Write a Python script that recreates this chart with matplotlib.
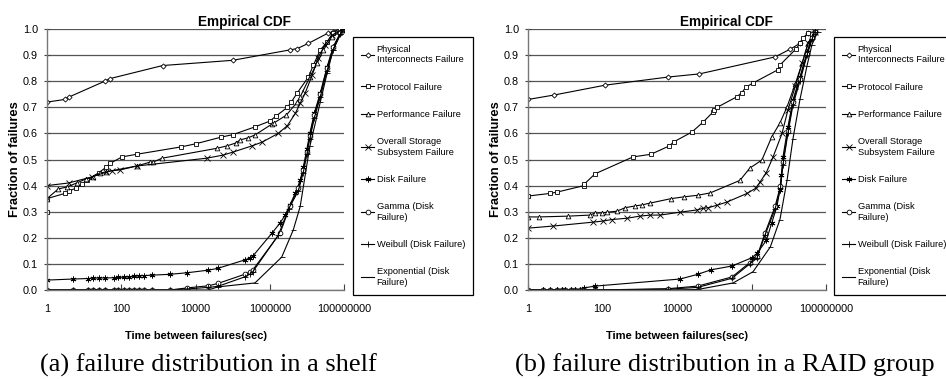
import matplotlib
matplotlib.use("Agg")
import matplotlib.pyplot as plt

plt.rcParams['font.family'] = ['Liberation Sans', 'DejaVu Sans']

# ---- (a) shelf ----
phys_a_x = [1, 3, 4, 36, 50, 1300, 1e5, 3.5e6, 5.5e6, 1.1e7, 3.8e7, 5e7, 8e7, 1e8]
phys_a_y = [0.72, 0.73, 0.74, 0.80, 0.81, 0.86, 0.88, 0.92, 0.925, 0.945, 0.985, 0.99, 1.0, 1.0]

proto_a_x = [1, 1, 3, 4, 6, 9, 12, 25, 39, 50, 105, 260, 4000, 1e4, 5e4, 1e5, 4e5, 1e6,
             1.5e6, 3e6, 3.8e6, 5.5e6, 1.1e7, 1.5e7, 2.3e7, 3.5e7, 5e7, 9e7]
proto_a_y = [0.30, 0.35, 0.37, 0.38, 0.39, 0.405, 0.42, 0.45, 0.47, 0.485, 0.51, 0.52, 0.548, 0.56,
             0.586, 0.595, 0.625, 0.647, 0.667, 0.70, 0.72, 0.755, 0.816, 0.862, 0.92, 0.95, 0.985, 0.995]

perf_a_x = [1, 2, 3.5, 6.3, 11, 17, 27, 40, 260, 600, 720, 1260, 3.8e4, 7e4, 1.2e5, 1.6e5, 2.6e5,
            4e5, 1.15e6, 1.3e6, 2.8e6, 5.5e6, 6.6e6, 1.2e7, 1.9e7, 2.8e7, 4.8e7, 9e7]
perf_a_y = [0.35, 0.387, 0.395, 0.41, 0.425, 0.433, 0.448, 0.453, 0.475, 0.49, 0.49, 0.505, 0.543,
            0.552, 0.563, 0.575, 0.583, 0.594, 0.636, 0.64, 0.67, 0.72, 0.74, 0.816, 0.87, 0.92, 0.97, 0.995]

over_a_x = [1, 3.8, 16, 40, 55, 93, 260, 2e4, 5.6e4, 1e5, 3.3e5, 6.3e5, 1.7e6, 3e6, 4.9e6, 6.6e6,
            8.9e6, 1.4e7, 2e7, 3.1e7, 4.8e7, 9e7]
over_a_y = [0.40, 0.41, 0.433, 0.452, 0.457, 0.46, 0.475, 0.505, 0.517, 0.528, 0.552, 0.567, 0.60,
            0.63, 0.677, 0.715, 0.753, 0.824, 0.89, 0.94, 0.977, 0.995]

disk_a_x = [1, 5, 13, 17, 25, 37, 63, 80, 120, 160, 220, 300, 400, 680, 2000, 5900, 2.2e4, 4e4,
            2.1e5, 3e5, 3.5e5, 1.15e6, 1.9e6, 2.6e6, 3.5e6, 4.9e6, 6.6e6, 8e6, 1e7, 1.2e7, 1.6e7,
            2.3e7, 3.5e7, 5.1e7, 8e7, 1e8]
disk_a_y = [0.038, 0.042, 0.044, 0.045, 0.046, 0.046, 0.047, 0.048, 0.049, 0.05, 0.052, 0.054, 0.055,
            0.057, 0.06, 0.066, 0.076, 0.083, 0.115, 0.123, 0.13, 0.218, 0.257, 0.287, 0.326, 0.372,
            0.42, 0.47, 0.54, 0.60, 0.68, 0.755, 0.855, 0.93, 0.985, 1.0]

zero_a_x = [1, 5, 13, 17, 25, 37, 63, 80, 120, 160, 220, 300, 400, 680, 2000]
gamma_a_x = zero_a_x + [5900, 2.2e4, 4e4, 2.1e5, 3e5, 3.5e5, 1.9e6, 3.5e6, 5.9e6, 8e6, 1e7,
                        1.2e7, 1.6e7, 2.3e7, 3.5e7, 5.1e7, 8e7, 1e8]
gamma_a_y = [0.0] * 15 + [0.008, 0.016, 0.025, 0.06, 0.07, 0.077, 0.218, 0.32, 0.39, 0.46, 0.53,
                          0.59, 0.67, 0.75, 0.85, 0.93, 0.985, 1.0]
weib_a_x = zero_a_x + [5900, 2.2e4, 4e4, 2.1e5, 3e5, 3.5e5, 1.7e6, 3.2e6, 5.9e6, 8e6, 1e7,
                       1.2e7, 1.6e7, 2.3e7, 3.5e7, 5.1e7, 8e7, 1e8]
weib_a_y = [0.0] * 15 + [0.004, 0.01, 0.014, 0.05, 0.062, 0.07, 0.21, 0.31, 0.38, 0.45, 0.52,
                         0.58, 0.66, 0.74, 0.84, 0.92, 0.98, 1.0]
exp_a_x = zero_a_x + [5900, 2.2e4, 4e4, 4e5, 2.1e6, 4.3e6, 6.6e6, 1.2e7, 2.3e7, 3.5e7, 5.1e7, 8e7, 1e8]
exp_a_y = [0.0] * 15 + [0.0, 0.0, 0.012, 0.027, 0.126, 0.23, 0.32, 0.55, 0.72, 0.83, 0.92, 0.98, 1.0]

# ---- (b) RAID group ----
phys_b_x = [1, 5, 120, 5800, 4e4, 4.3e6, 1.1e7, 2e7, 3.3e7, 5e7]
phys_b_y = [0.73, 0.747, 0.785, 0.816, 0.828, 0.893, 0.923, 0.945, 0.985, 0.99]

proto_b_x = [1, 3.9, 6, 32, 32, 63, 660, 2000, 6200, 8300, 2.5e4, 5e4, 9.3e4, 1e5, 1.2e5, 4e5,
             5.4e5, 7.2e5, 1.1e6, 5e6, 5.8e6, 1.6e7, 2e7, 2.4e7, 3.3e7]
proto_b_y = [0.36, 0.37, 0.375, 0.40, 0.405, 0.445, 0.51, 0.52, 0.552, 0.568, 0.605, 0.643, 0.682,
             0.69, 0.70, 0.74, 0.755, 0.778, 0.793, 0.843, 0.862, 0.925, 0.945, 0.965, 0.985]

perf_b_x = [1, 2, 12, 46, 63, 98, 130, 245, 400, 740, 1150, 1900, 6900, 1.55e4, 3.6e4, 7.8e4,
            4.9e5, 9e5, 1.9e6, 3.5e6, 5.8e6, 8.9e6, 1.5e7, 2.3e7, 3.3e7, 5e7]
perf_b_y = [0.28, 0.28, 0.283, 0.287, 0.295, 0.295, 0.298, 0.302, 0.315, 0.322, 0.326, 0.333, 0.35,
            0.357, 0.363, 0.372, 0.42, 0.467, 0.498, 0.587, 0.64, 0.70, 0.79, 0.87, 0.945, 0.99]

over_b_x = [1, 4.7, 56, 100, 180, 460, 1000, 1900, 3500, 1.2e4, 3.5e4, 5e4, 6.8e4, 1.2e5, 2.2e5,
            7.6e5, 1.3e6, 1.7e6, 2.5e6, 3.8e6, 6.6e6, 9.5e6, 1.5e7, 2.3e7, 3.3e7, 5e7]
over_b_y = [0.237, 0.245, 0.26, 0.264, 0.27, 0.275, 0.283, 0.287, 0.287, 0.298, 0.307, 0.313, 0.315,
            0.325, 0.337, 0.37, 0.39, 0.414, 0.45, 0.51, 0.60, 0.69, 0.78, 0.87, 0.945, 0.99]

zero_b_x = [1, 2.5, 4, 6, 8, 10, 14, 18, 25]
disk_b_x = zero_b_x + [32, 63, 1.2e4, 3.6e4, 8e4, 3e5, 1e6, 1.4e6, 2.5e6, 3.5e6, 4.8e6, 5.8e6,
                       6.3e6, 7e6, 9.5e6, 1.3e7, 2e7, 3.1e7, 4.2e7, 5e7]
disk_b_y = [0.0] * 9 + [0.008, 0.015, 0.042, 0.06, 0.077, 0.092, 0.123, 0.14, 0.19, 0.257, 0.32,
                        0.383, 0.44, 0.51, 0.625, 0.728, 0.816, 0.91, 0.97, 0.99]
gamma_b_x = zero_b_x + [32, 63, 5800, 3.6e4, 3e5, 9e5, 1.4e6, 2.3e6, 4.3e6, 6e6, 7e6, 9.5e6,
                        1.3e7, 2e7, 3.1e7, 4.2e7, 5e7]
gamma_b_y = [0.0] * 9 + [0.0, 0.0, 0.005, 0.015, 0.05, 0.105, 0.127, 0.218, 0.32, 0.40, 0.49, 0.61,
                         0.72, 0.81, 0.905, 0.965, 0.99]
weib_b_x = zero_b_x + [32, 63, 5800, 3.6e4, 3e5, 9e5, 1.4e6, 2.3e6, 4.3e6, 6e6, 7e6, 9.5e6,
                       1.3e7, 2e7, 3.1e7, 4.2e7, 5e7]
weib_b_y = [0.0] * 9 + [0.0, 0.0, 0.003, 0.01, 0.045, 0.1, 0.122, 0.21, 0.31, 0.39, 0.48, 0.60,
                        0.71, 0.80, 0.90, 0.96, 0.99]
exp_b_x = zero_b_x + [32, 63, 5800, 3.6e4, 3.2e5, 1.1e6, 3.2e6, 5.8e6, 9e6, 1.3e7, 2e7, 3.1e7,
                      4.2e7, 6e7]
exp_b_y = [0.0] * 9 + [0.0, 0.0, 0.0, 0.002, 0.027, 0.07, 0.165, 0.27, 0.42, 0.58, 0.73, 0.86,
                       0.94, 0.99]

labels = ["Physical\nInterconnects Failure", "Protocol Failure", "Performance Failure",
          "Overall Storage\nSubsystem Failure", "Disk Failure", "Gamma (Disk\nFailure)",
          "Weibull (Disk Failure)", "Exponential (Disk\nFailure)"]
markers = ['D', 's', '^', 'x', (6, 2, 0), 'o', '+', '_']
msizes = [2.6, 3.4, 3.4, 3.8, 4.2, 3.4, 4.2, 3.6]
filled = [False, False, False, True, True, False, True, True]

W, H = 946, 379


def draw(ax, series, legend_left):
    handles = []
    for (xs, ys), lab, m, ms, f in zip(series, labels, markers, msizes, filled):
        ln, = ax.plot(xs, ys, color='black', lw=0.8, marker=m, markersize=ms,
                      markerfacecolor='black' if f else 'white', markeredgecolor='black',
                      markeredgewidth=0.6, label=lab)
        handles.append(ln)
    ax.set_xscale('log')
    ax.set_xlim(1, 1e8)
    ax.set_ylim(0, 1.0)
    ax.set_xticks([1, 100, 1e4, 1e6, 1e8])
    ax.set_xticklabels(['1', '100', '10000', '1000000', '100000000'])
    ax.xaxis.set_minor_locator(matplotlib.ticker.NullLocator())
    ax.set_yticks([i / 10 for i in range(11)])
    ax.set_yticklabels(['%.1f' % (i / 10) for i in range(11)])
    ax.tick_params(axis='x', direction='in', length=4, pad=10, labelsize=7.8, color='#444444')
    ax.tick_params(axis='y', direction='inout', length=5, pad=4, labelsize=7.8, color='#444444')
    ax.grid(axis='y', color='#555555', lw=0.9)
    ax.set_axisbelow(True)
    for s in ['top', 'right']:
        ax.spines[s].set_visible(False)
    for s in ['left', 'bottom']:
        ax.spines[s].set_color('#777777')
        ax.spines[s].set_linewidth(1.0)
    ax.set_title('Empirical CDF', fontsize=9.8, fontweight='bold', pad=2, x=0.665)
    ax.set_ylabel('Fraction of failures', fontsize=9.3, fontweight='bold', labelpad=1)
    ax.set_xlabel('Time between failures(sec)', fontsize=8, fontweight='bold', labelpad=12)
    leg = ax.legend(handles=handles, loc='upper left',
                    bbox_to_anchor=(legend_left / W, 1 - 37 / H),
                    bbox_transform=ax.figure.transFigure, borderaxespad=0,
                    fontsize=6.7, fancybox=False, edgecolor='black', framealpha=1,
                    labelspacing=1.97, handlelength=1.45, handletextpad=0.25,
                    borderpad=0.85)
    leg.get_frame().set_linewidth(0.9)


fig = plt.figure(figsize=(W / 100, H / 100), dpi=100)
ax1 = fig.add_axes([47 / W, 1 - 290 / H, (344 - 47) / W, 261 / H])
ax2 = fig.add_axes([528 / W, 1 - 290 / H, (826 - 528) / W, 261 / H])

draw(ax1, [(phys_a_x, phys_a_y), (proto_a_x, proto_a_y), (perf_a_x, perf_a_y),
           (over_a_x, over_a_y), (disk_a_x, disk_a_y), (gamma_a_x, gamma_a_y),
           (weib_a_x, weib_a_y), (exp_a_x, exp_a_y)], 353)
draw(ax2, [(phys_b_x, phys_b_y), (proto_b_x, proto_b_y), (perf_b_x, perf_b_y),
           (over_b_x, over_b_y), (disk_b_x, disk_b_y), (gamma_b_x, gamma_b_y),
           (weib_b_x, weib_b_y), (exp_b_x, exp_b_y)], 834)

fig.text(40 / W, 1 - 365 / H, '(a) failure distribution in a shelf', family='Liberation Serif',
         fontsize=19, va='center', ha='left')
fig.text(515 / W, 1 - 365 / H, '(b) failure distribution in a RAID group', family='Liberation Serif',
         fontsize=19, va='center', ha='left')

fig.savefig('out.png', dpi=100)
